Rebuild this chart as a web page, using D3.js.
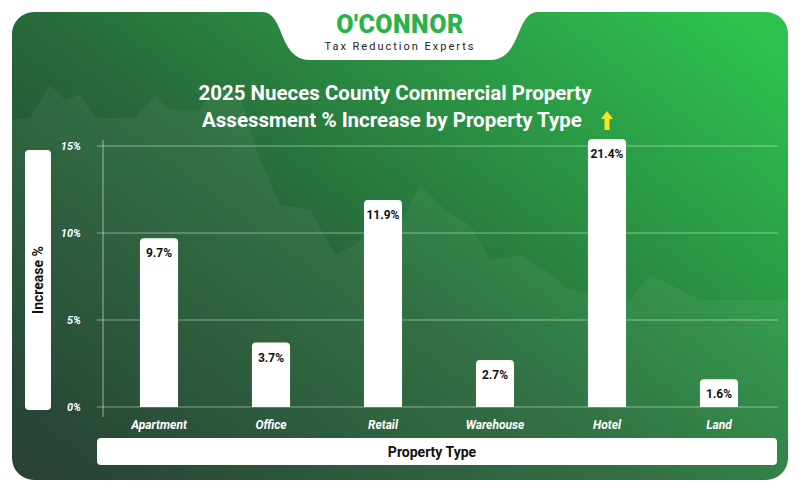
<!DOCTYPE html>
<html><head><meta charset="utf-8">
<script src="https://cdn.jsdelivr.net/npm/d3@7"></script>
<style>body{margin:0;background:#fff}svg{display:block;font-family:Roboto,sans-serif}</style>
</head><body><svg id="c" width="800" height="492"></svg>
<script>
const categories = ["Apartment", "Office", "Retail", "Warehouse", "Hotel", "Land"];
const values = [9.7, 3.7, 11.9, 2.7, 21.4, 1.6];
const yTicks = [0, 5, 10, 15];
const yMaxShown = 15.4; // bars above this are capped

const svg = d3.select("#c");
const defs = svg.append("defs");
const g1 = defs.append("linearGradient").attr("id", "bg").attr("x1", 0).attr("y1", 0.9).attr("x2", 1).attr("y2", 0.1);
g1.append("stop").attr("offset", 0).attr("stop-color", "#1c3a2c");
g1.append("stop").attr("offset", 0.45).attr("stop-color", "#286a3a");
g1.append("stop").attr("offset", 1).attr("stop-color", "#2dc24f");

svg.append("rect").attr("x", 12).attr("y", 12).attr("width", 776).attr("height", 468).attr("rx", 22).attr("fill", "url(#bg)");

// faint skyline silhouette
const sky = [[12,120],[30,118],[50,85],[65,100],[80,95],[95,118],[135,118],[155,95],[170,110],[200,110],[215,85],[240,95],[260,160],[280,205],[310,210],[335,255],[355,245],[370,230],[400,225],[420,185],[445,210],[470,225],[490,260],[520,255],[545,270],[570,290],[600,295],[630,300],[650,275],[670,285],[700,300],[788,300],[788,480],[12,480]];
svg.append("path").attr("d", d3.line()(sky) + "Z").attr("fill", "#ffffff").attr("opacity", 0.05);

// logo tab
svg.append("path").attr("d", "M262,12 C285,12 278,60 310,60 L490,60 C522,60 515,12 538,12 Z").attr("fill", "#fff");
svg.append("text").attr("x", 400).attr("y", 33).attr("text-anchor", "middle").attr("font-size", 25).attr("font-weight", 900)
  .attr("fill", "#2bb34a").attr("letter-spacing", 0.5).text("O'CONNOR");
svg.append("text").attr("x", 400).attr("y", 50).attr("text-anchor", "middle").attr("font-size", 11).attr("letter-spacing", 2)
  .attr("fill", "#222").text("Tax Reduction Experts");

// title
svg.append("text").attr("x", 395).attr("y", 100).attr("text-anchor", "middle").attr("font-size", 20.5).attr("font-weight", 700).attr("fill", "#fff").text("2025 Nueces County Commercial Property");
svg.append("text").attr("x", 392).attr("y", 127).attr("text-anchor", "middle").attr("font-size", 20.5).attr("font-weight", 700).attr("fill", "#fff").text("Assessment % Increase by Property Type");

const x = d3.scaleBand().domain(categories).range([103, 775]).paddingInner(0.66).paddingOuter(0.33);
const y = d3.scaleLinear().domain([0, 15]).range([407, 146]);

// grid
const grid = svg.append("g");
grid.selectAll("line").data(yTicks).join("line")
  .attr("x1", 97).attr("x2", 778).attr("y1", d => y(d)).attr("y2", d => y(d))
  .attr("stroke", "#fff").attr("stroke-opacity", 0.45).attr("stroke-width", 1);
grid.append("line").attr("x1", 103).attr("x2", 103).attr("y1", 140).attr("y2", 417).attr("stroke", "#fff").attr("stroke-opacity", 0.55);

// y tick labels
svg.append("g").selectAll("text").data(yTicks).join("text")
  .attr("x", 81).attr("y", d => y(d) + 4).attr("text-anchor", "end").attr("font-size", 11).attr("font-weight", 700)
  .attr("font-style", "italic").attr("fill", "#fff").text(d => d + "%");

// bars with rounded top
const bh = d => y(Math.min(d, yMaxShown));
svg.append("g").selectAll("path").data(values).join("path")
  .attr("d", (d, i) => {
    const x0 = x(categories[i]), w = x.bandwidth(), t = bh(d), b = y(0), r = 4;
    return `M${x0},${b}V${t + r}Q${x0},${t} ${x0 + r},${t}H${x0 + w - r}Q${x0 + w},${t} ${x0 + w},${t + r}V${b}Z`;
  }).attr("fill", "#fff");

svg.append("g").selectAll("text").data(values).join("text")
  .attr("x", (d, i) => x(categories[i]) + x.bandwidth() / 2).attr("y", d => bh(d) + 19)
  .attr("text-anchor", "middle").attr("font-size", 12).attr("font-weight", 700).attr("fill", "#111").text(d => d + "%");

// up arrow on capped bar
values.forEach((d, i) => {
  if (d <= yMaxShown) return;
  const cx = x(categories[i]) + x.bandwidth() / 2;
  svg.append("path").attr("d", `M${cx},111 L${cx + 6},119 L${cx + 2.5},119 L${cx + 2.5},130 L${cx - 2.5},130 L${cx - 2.5},119 L${cx - 6},119 Z`).attr("fill", "#f4e81c");
});

// x labels
svg.append("g").selectAll("text").data(categories).join("text")
  .attr("x", d => x(d) + x.bandwidth() / 2).attr("y", 429).attr("text-anchor", "middle").attr("font-size", 12)
  .attr("font-weight", 700).attr("font-style", "italic").attr("fill", "#fff").text(d => d);

// axis title boxes
svg.append("rect").attr("x", 97).attr("y", 438).attr("width", 680).attr("height", 27).attr("rx", 4).attr("fill", "#fff");
svg.append("text").attr("x", 432).attr("y", 457).attr("text-anchor", "middle").attr("font-size", 14).attr("font-weight", 700).attr("fill", "#111").text("Property Type");
svg.append("rect").attr("x", 25).attr("y", 150).attr("width", 26).attr("height", 260).attr("rx", 4).attr("fill", "#fff");
svg.append("text").attr("transform", "translate(43,280) rotate(-90)").attr("text-anchor", "middle").attr("font-size", 14).attr("font-weight", 700).attr("fill", "#111").text("Increase %");
</script></body></html>
